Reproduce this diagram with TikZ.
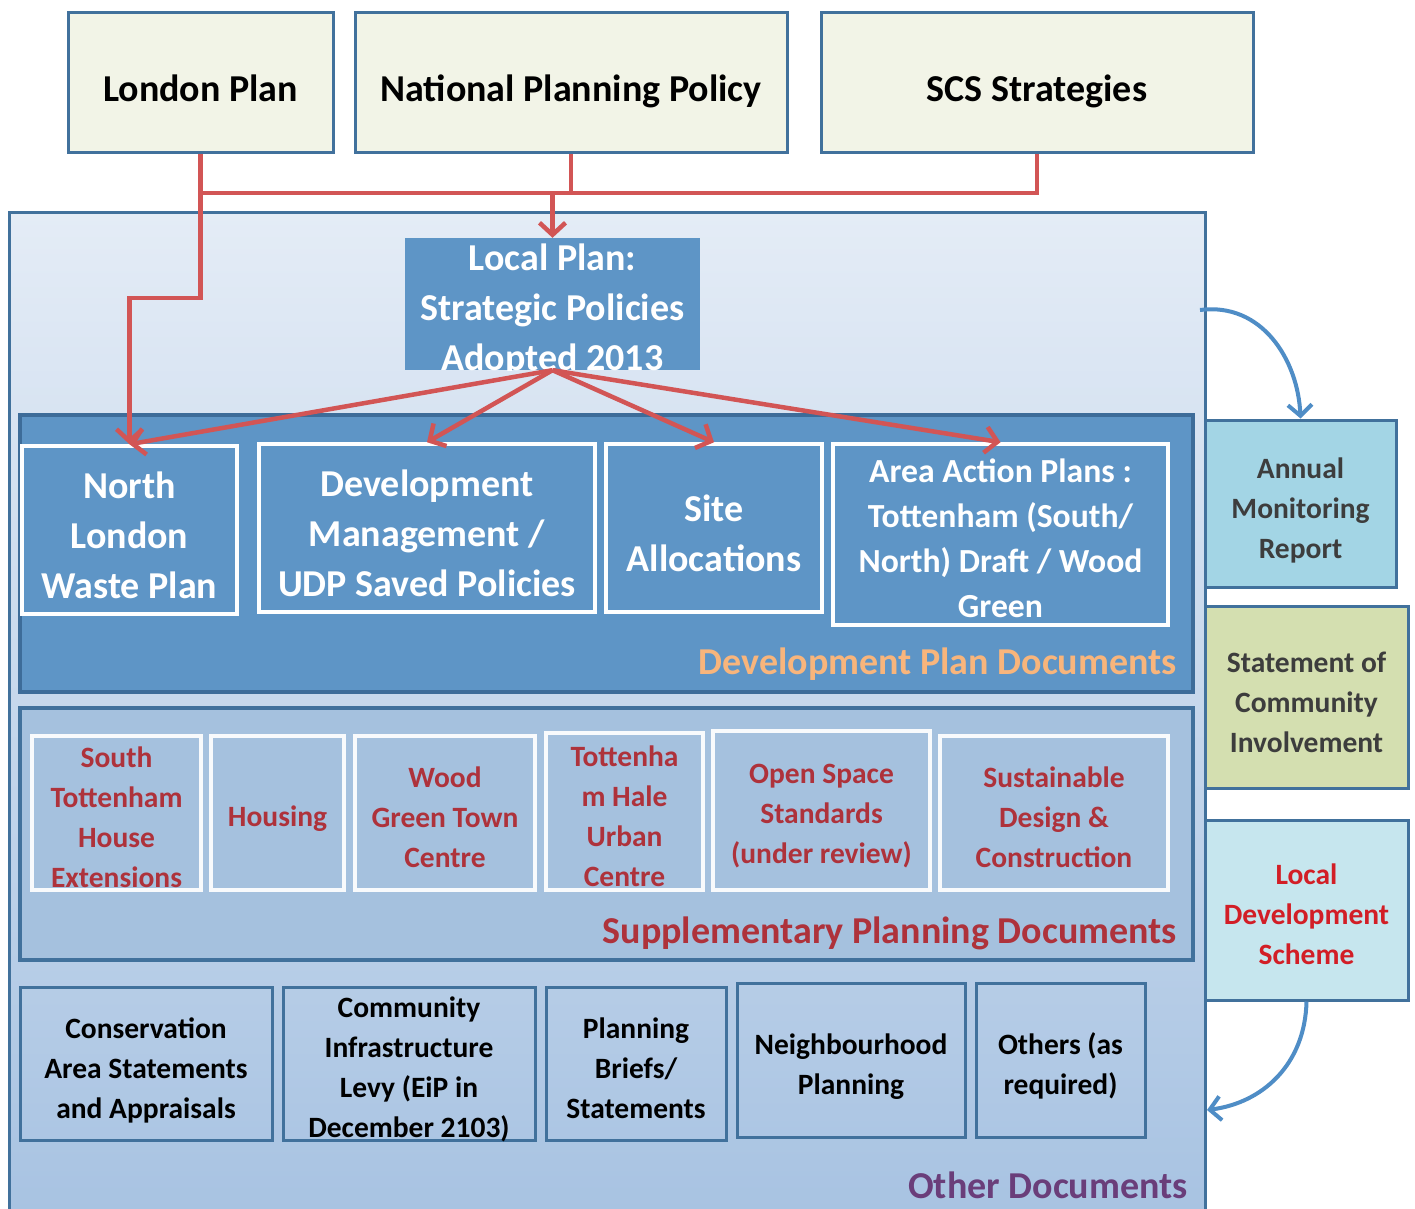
\documentclass[tikz,border=0pt]{standalone}
\usepackage{fontspec}
\setmainfont{Carlito}
\usetikzlibrary{arrows.meta,shadings}
\definecolor{bordblue}{HTML}{41719C}
\definecolor{topfill}{HTML}{F2F4E7}
\definecolor{midblue}{HTML}{5E95C6}
\definecolor{dpdborder}{HTML}{3D6C99}
\definecolor{spdfill}{HTML}{A5C1DE}
\definecolor{redline}{HTML}{D25555}
\definecolor{dpdorange}{HTML}{F8B57C}
\definecolor{spdred}{HTML}{AE323B}
\definecolor{otherpurple}{HTML}{6A3E7A}
\definecolor{amrfill}{HTML}{A3D5E5}
\definecolor{scifill}{HTML}{D4DFB0}
\definecolor{ldsfill}{HTML}{C6E6EE}
\definecolor{ldsred}{HTML}{D21E26}
\definecolor{greytext}{HTML}{3D3D3D}
\definecolor{curveblue}{HTML}{4F8DC6}
\definecolor{outertop}{HTML}{E4ECF6}
\definecolor{outerbot}{HTML}{A8C3E2}
\begin{document}
\begin{tikzpicture}[x=1pt,y=-1pt,
  fbig/.style={font=\bfseries\fontsize{38}{50}\selectfont},
  fmid/.style={font=\bfseries\fontsize{33.7}{45}\selectfont},
  fsmall/.style={font=\bfseries\fontsize{29.5}{40}\selectfont},
  boxbase/.style={rectangle, inner sep=0pt, align=center},
  lbl/.style={align=center, inner sep=0pt, yshift=-#1},
  lbl/.default=5pt,
  tTop/.style={lbl=#1, text=black, fbig},
  tDpd/.style={lbl=#1, text=white, fbig},
  tAap/.style={lbl=#1, text=white, fmid},
  tSpd/.style={lbl=#1, text=spdred, fsmall},
  tOth/.style={lbl=#1, text=black, fsmall},
  tGrey/.style={lbl=#1, text=greytext, fsmall},
  tLds/.style={lbl=#1, text=ldsred, fsmall},
  topbox/.style={boxbase, draw=bordblue, line width=3pt, fill=topfill},
  dpdbox/.style={boxbase, draw=white, line width=3.5pt, fill=midblue},
  spdbox/.style={boxbase, draw=white!92!spdfill, line width=3.5pt, fill=spdfill},
  othbox/.style={boxbase, draw=bordblue, line width=3pt},
  sidebox/.style={boxbase, draw=bordblue, line width=3pt},
  redarrow/.style={draw=redline, line width=4.5pt, -{Straight Barb[length=12pt,width=26pt,line width=4.5pt]}},
  redplain/.style={draw=redline, line width=4.5pt},
  bluearrow/.style={draw=curveblue, line width=4pt, -{Straight Barb[length=11pt,width=24pt,line width=4pt]}}
]
\useasboundingbox (0,0) rectangle (1415,1209);
\fill[white] (0,0) rectangle (1415,1209);

% outer container
\node[boxbase, draw=bordblue, line width=3pt, top color=outertop, bottom color=outerbot,
      minimum width=1196pt, minimum height=1000pt] (outer) at (607,712) {};

% top boxes
\node[topbox, minimum width=265pt, minimum height=140pt, label={[tTop=5pt]center:{London Plan}}] (LP) at (200.5,83) {};
\node[topbox, minimum width=432pt, minimum height=140pt, label={[tTop=8pt]center:{National Planning Policy}}] (NPP) at (571,83) {};
\node[topbox, minimum width=432pt, minimum height=140pt, label={[tTop=8pt]center:{SCS Strategies}}] (SCS) at (1037,83) {};

% local plan
\node[boxbase, fill=midblue, minimum width=295pt, minimum height=132pt] (LPL) at (552.5,304) {};
\begin{scope}
\clip (LPL.north west) rectangle (LPL.south east);
\node[boxbase, text=white, fbig] (LPLt) at (552.5,310) {Local Plan:\\Strategic Policies\\Adopted 2013};
\end{scope}

% development plan documents band
\node[boxbase, draw=dpdborder, line width=3.5pt, fill=midblue, minimum width=1173pt, minimum height=277pt] (DPD) at (606.5,553.5) {};
\node[dpdbox, minimum width=215pt, minimum height=168pt, label={[tDpd=5pt]center:{North\\London\\Waste Plan}}] (NL) at (129.5,530) {};
\node[dpdbox, minimum width=336pt, minimum height=168pt, label={[tDpd=5pt]center:{Development\\Management /\\UDP Saved Policies}}] (DM) at (427,528) {};
\node[dpdbox, minimum width=216pt, minimum height=168pt, label={[tDpd=5pt]center:{Site\\Allocations}}] (SA) at (714,528) {};
\node[dpdbox, minimum width=335pt, minimum height=181pt, label={[tAap=4pt]center:{Area Action Plans :\\Tottenham (South/\\North) Draft / Wood\\Green}}] (AAP) at (1000.5,534.5) {};
\node[anchor=east, text=dpdorange, fbig, inner sep=0pt] (DPDl) at (1177,664) {Development Plan Documents};

% supplementary planning documents band
\node[boxbase, draw=bordblue, line width=3.5pt, fill=spdfill, minimum width=1173pt, minimum height=252pt] (SPD) at (606.5,834) {};
\node[spdbox, minimum width=169pt, minimum height=154pt, label={[tSpd=4pt]center:{South\\Tottenham\\House\\Extensions}}] (STH) at (116.5,813) {};
\node[spdbox, minimum width=133pt, minimum height=154pt, label={[tSpd=6pt]center:{Housing}}] (HOU) at (277.5,813) {};
\node[spdbox, minimum width=180pt, minimum height=154pt, label={[tSpd=4pt]center:{Wood\\Green Town\\Centre}}] (WG) at (445,813) {};
\node[spdbox, minimum width=157pt, minimum height=157pt, label={[tSpd=5pt]center:{Tottenha\\m Hale\\Urban\\Centre}}] (TH) at (624.5,811.5) {};
\node[spdbox, minimum width=217pt, minimum height=159pt, label={[tSpd=6pt]center:{Open Space\\Standards\\(under review)}}] (OS) at (821.5,810.5) {};
\node[spdbox, minimum width=228pt, minimum height=154pt, label={[tSpd=4pt]center:{Sustainable\\Design \&\\Construction}}] (SD) at (1054,813) {};
\node[anchor=east, text=spdred, fbig, inner sep=0pt] (SPDl) at (1177,933) {Supplementary Planning Documents};

% other documents
\node[othbox, minimum width=252pt, minimum height=153pt, label={[tOth=7pt]center:{Conservation\\Area Statements\\and Appraisals}}] (CON) at (146,1063.5) {};
\node[othbox, minimum width=252pt, minimum height=153pt, label={[tOth=6pt]center:{Community\\Infrastructure\\Levy (EiP in\\December 2103)}}] (CIL) at (409,1063.5) {};
\node[othbox, minimum width=180pt, minimum height=153pt, label={[tOth=5pt]center:{Planning\\Briefs/\\Statements}}] (PB) at (636,1063.5) {};
\node[othbox, minimum width=228pt, minimum height=154pt, label={[tOth=7pt]center:{Neighbourhood\\Planning}}] (NP) at (851,1060) {};
\node[othbox, minimum width=169pt, minimum height=154pt, label={[tOth=6pt]center:{Others (as\\required)}}] (OT) at (1060.5,1060) {};
\node[anchor=east, text=otherpurple, fbig, inner sep=0pt] (OTHl) at (1188,1185) {Other Documents};

% side boxes
\node[sidebox, fill=amrfill, minimum width=191pt, minimum height=167pt, label={[tGrey=7pt]center:{Annual\\Monitoring\\Report}}] (AMR) at (1300.5,503.5) {};
\node[sidebox, fill=scifill, minimum width=203pt, minimum height=182pt, label={[tGrey=5pt]center:{Statement of\\Community\\Involvement}}] (SCI) at (1306.5,697) {};
\node[sidebox, fill=ldsfill, minimum width=203pt, minimum height=180pt, label={[tLds=4pt]center:{Local\\Development\\Scheme}}] (LDS) at (1306.5,910) {};

% red connectors
\coordinate (busL) at (LP.south |- 0,193);
\coordinate (busR) at (SCS.south |- 0,193);
\coordinate (busM) at (NPP.south |- 0,193);
\coordinate (busLP) at (LPL.north |- 0,193);
\coordinate (stepc) at (LP.south |- 0,298);
\draw[redplain] (LP.south) -- (busL) -- (busR) -- (SCS.south);
\draw[redplain] (NPP.south) -- (busM);
\draw[redarrow] (busLP) -- (LPL.north);
\draw[redarrow] (busL) -- (stepc) -| (NL.north);
\draw[redarrow] (LPL.south) -- (NL.north);
\draw[redarrow] (LPL.south) -- (DM.north);
\draw[redarrow] (LPL.south) -- (SA.north);
\draw[redarrow] (LPL.south) -- (AAP.north);

% blue curved connectors
\coordinate (cA) at (1200,310);
\coordinate (cB) at (1207,1110);
\draw[bluearrow] (cA) .. controls (1262,302) and (1298,360) .. (AMR.north);
\draw[bluearrow] (LDS.south) .. controls (1305,1065) and (1262,1103) .. (cB);
\end{tikzpicture}
\end{document}
